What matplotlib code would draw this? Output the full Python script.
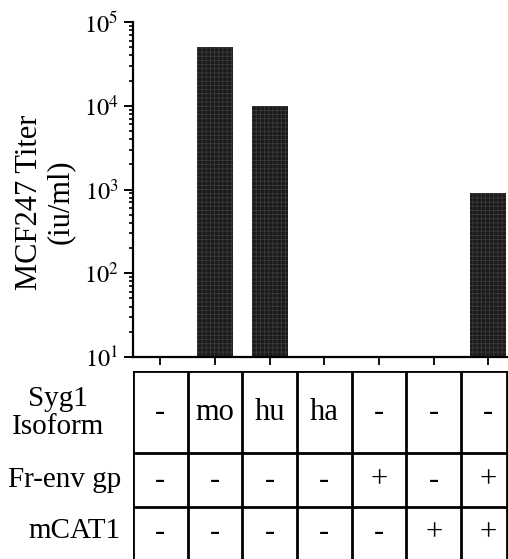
import numpy as np
import matplotlib
matplotlib.use("Agg")
import matplotlib.pyplot as plt

plt.rcParams['font.family'] = ['Liberation Serif', 'DejaVu Serif']
plt.rcParams['mathtext.fontset'] = 'stix'
plt.rcParams['hatch.linewidth'] = 0.6

# data
conditions = ["1", "2", "3", "4", "5", "6", "7"]
titer = [np.nan, 5.0e4, 1.0e4, np.nan, np.nan, np.nan, 9.0e2]
syg1 = ["-", "mo", "hu", "ha", "-", "-", "-"]
fr_env = ["-", "-", "-", "-", "+", "-", "+"]
mcat1 = ["-", "-", "-", "-", "-", "+", "+"]
row_names = ["Syg1\nIsoform", "Fr-env gp", "mCAT1"]
yticks = [1e1, 1e2, 1e3, 1e4, 1e5]
ytick_labels = ["$10^{1}$", "$10^{2}$", "$10^{3}$", "$10^{4}$", "$10^{5}$"]

W, H = 508, 559
fig = plt.figure(figsize=(W / 100, H / 100), dpi=100)

# pixel layout helpers
def fx(px):
    return px / W

def fy(py):
    return 1 - py / H

x = np.arange(len(conditions))
xlim = (-0.5, 6.36)

ax = fig.add_axes([fx(133), fy(357), fx(508) - fx(133), fy(22) - fy(357)])
ax.bar(x, titer, width=0.66, color='#1a1a1a', edgecolor='#3a3a3a', linewidth=0,
       hatch='++++')
ax.set_yscale('log')
ax.set_ylim(10, 1e5)
ax.set_xlim(*xlim)
ax.set_yticks(yticks)
ax.set_yticklabels(ytick_labels, fontsize=17.5)
ax.set_xticks(x)
ax.set_xticklabels([])
ax.spines['top'].set_visible(False)
ax.spines['right'].set_visible(False)
for s in ['left', 'bottom']:
    ax.spines[s].set_linewidth(1.6)
ax.tick_params(axis='y', which='major', direction='out', length=6.5, width=1.4, pad=4)
ax.tick_params(axis='y', which='minor', direction='out', length=3, width=1.2)
ax.tick_params(axis='x', which='major', direction='out', length=6, width=1.3)
ax.patch.set_alpha(0)

fig.text(fx(45), fy(202), "MCF247 Titer\n(iu/ml)", rotation=90, ha='center',
         va='center', multialignment='center', fontsize=22, linespacing=1.05)

# table below the bars
tab = fig.add_axes([fx(133), 0, fx(508) - fx(133), fy(371)])
tab.set_xlim(*xlim)
tab.set_ylim(188, 0)
tab.axis('off')
row_edges = [0, 82, 136, 188]
lw = 2.0
for yb in row_edges[:-1]:
    tab.axhline(yb, color='black', lw=lw)
for xb in np.arange(-0.5, 6.0, 1.0):
    tab.axvline(xb, color='black', lw=lw)
tab.axvline(xlim[1] - 0.02, color='black', lw=lw)

rows = [syg1, fr_env, mcat1]
for r, vals in enumerate(rows):
    yc = (row_edges[r] + row_edges[r + 1]) / 2
    for i, v in enumerate(vals):
        tab.text(x[i], yc, v, ha='center', va='center', fontsize=22)

# row labels
fig.text(fx(58), fy(413), row_names[0], ha='center', va='center',
         multialignment='center', fontsize=21, linespacing=1.1)
fig.text(fx(121), fy(480), row_names[1], ha='right', va='center', fontsize=21)
fig.text(fx(121), fy(531), row_names[2], ha='right', va='center', fontsize=21)

fig.savefig("out.png", dpi=100)
